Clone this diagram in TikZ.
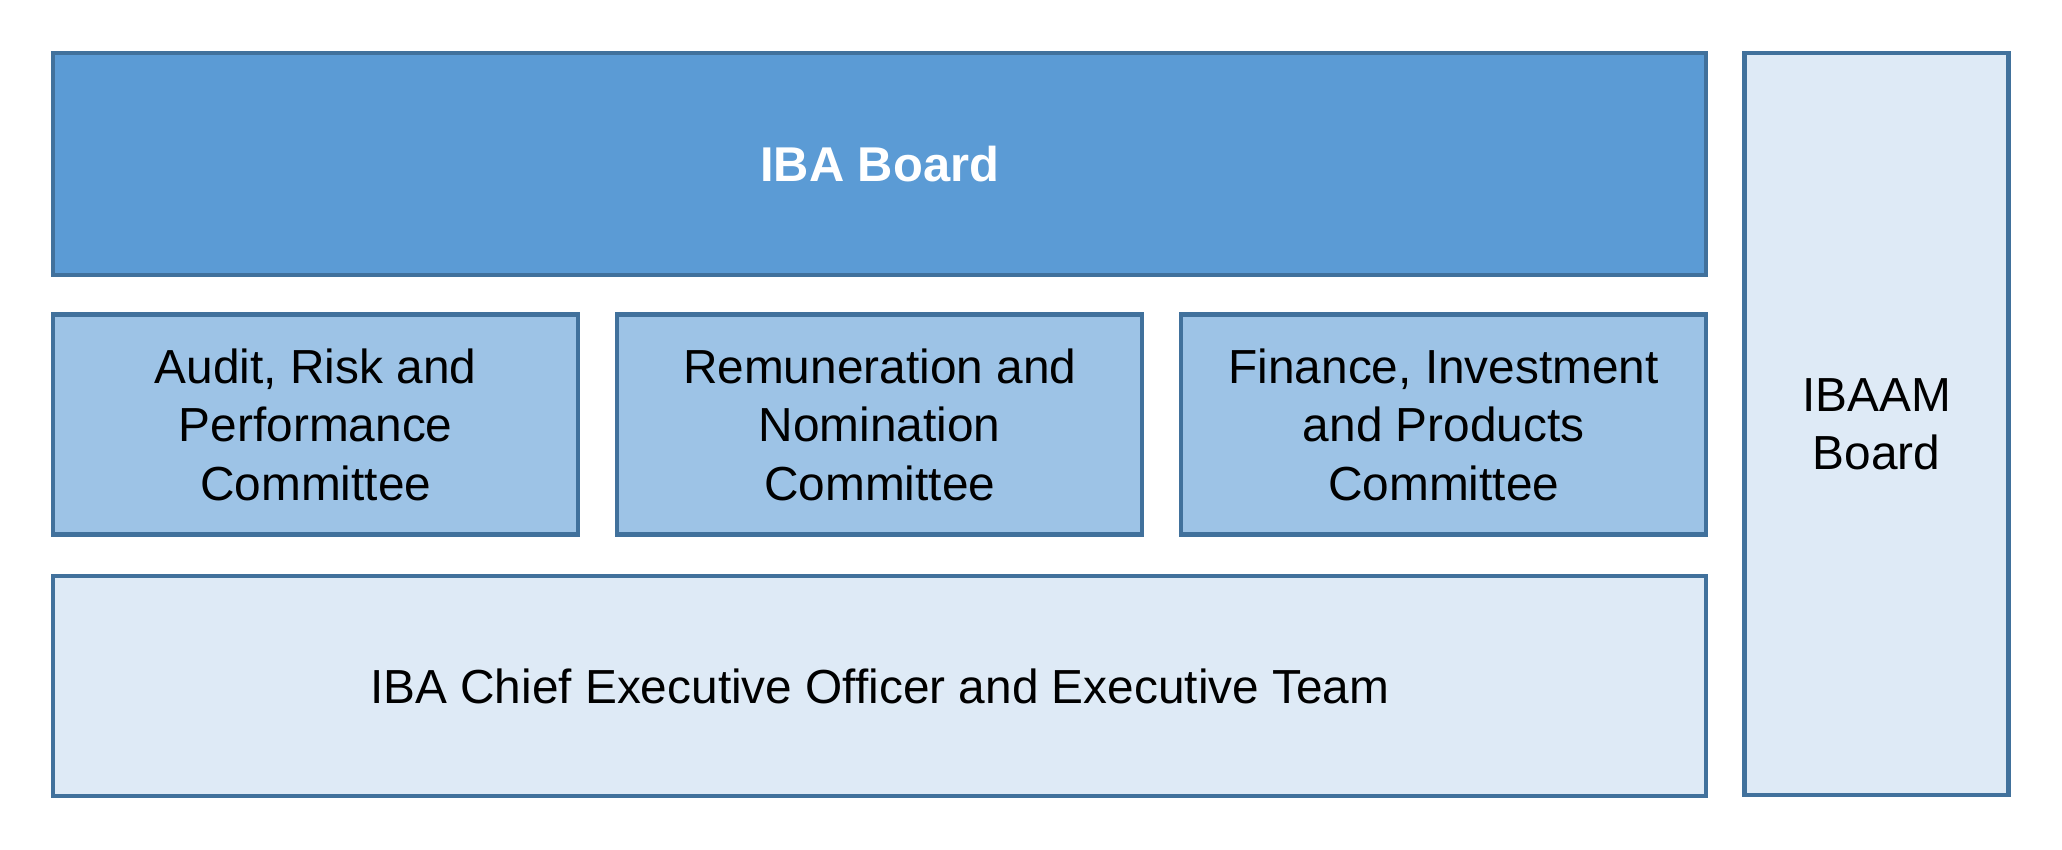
\documentclass[tikz,border=0pt]{standalone}
\usepackage{fontspec}
\setmainfont{Liberation Sans}
\usepackage{xcolor}
\usetikzlibrary{positioning}

\definecolor{boardblue}{HTML}{5B9BD5}
\definecolor{commblue}{HTML}{9DC3E6}
\definecolor{paleblue}{HTML}{DEEAF6}
\definecolor{edgeblue}{HTML}{41719C}

\tikzset{
    box/.style={draw=edgeblue, line width=1.25pt, rectangle, align=center, inner sep=0pt,
        font=\fontsize{13.6}{16.6}\selectfont},
    committee/.style={box, fill=commblue, minimum width=5.25cm, minimum height=2.20cm},
}

\begin{document}
\begin{tikzpicture}
    \useasboundingbox (0,0) rectangle (20.62,-8.49);
    \node (board) [box, fill=boardblue, anchor=north west, minimum width=16.53cm, minimum height=2.22cm,
        text=white, font=\fontsize{13.9}{16.6}\selectfont\bfseries] at (0.51,-0.51) {IBA Board};
    \node (audit) [committee, below=0.35cm of board.south west, anchor=north west] {Audit, Risk and\\Performance\\Committee};
    \node (remun) [committee, right=0.346cm of audit] {Remuneration and\\Nomination\\Committee};
    \node (finance) [committee, right=0.346cm of remun] {Finance, Investment\\and Products\\Committee};
    \node (ceo) [box, fill=paleblue, below=0.373cm of audit.south west, anchor=north west,
        minimum width=16.53cm, minimum height=2.20cm] {IBA Chief Executive Officer and Executive Team};
    \node (ibaam) [box, fill=paleblue, right=0.34cm of board.north east, anchor=north west,
        minimum width=2.64cm, minimum height=7.42cm] {IBAAM\\Board};
\end{tikzpicture}
\end{document}
